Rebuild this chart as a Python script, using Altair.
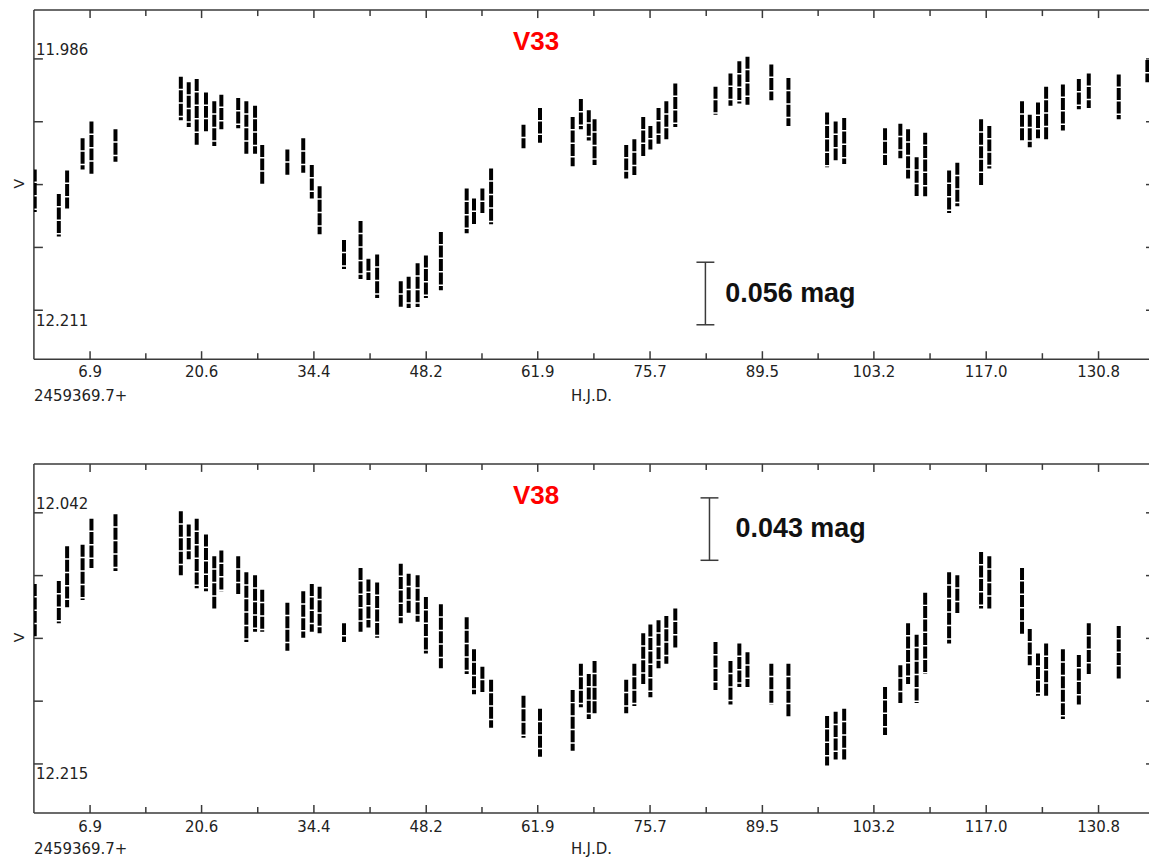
import altair as alt
import pandas as pd

# Observing nights, days after HJD 2459369.7 (shared by both stars)
days = [0.1, 3.06, 4.08, 5.98, 7.07, 10.02, 18.05, 19.02, 20.0, 21.14,
        22.16, 23.03, 25.1, 26.1, 27.17, 28.05, 31.14, 33.09, 34.14, 35.1,
        38.1, 40.13, 41.1, 42.17, 45.07, 46.04, 47.14, 48.16, 50.0, 53.17,
        54.07, 55.1, 56.17, 60.15, 62.18, 66.19, 67.2, 68.17, 68.88, 72.77,
        73.77, 74.86, 75.74, 76.74, 77.7, 78.8, 83.74, 85.58, 86.67, 87.67,
        90.6, 92.7, 97.45, 98.5, 99.55, 104.57, 106.45, 107.4, 108.45, 109.5,
        112.44, 113.45, 116.37, 117.38, 121.4, 122.35, 123.36, 124.36, 126.42, 128.38,
        129.6, 133.28, 136.8]

# V33: brightest and faintest V magnitude of each night
v33_bright = [12.085, 12.107, 12.086, 12.057, 12.042, 12.049, 12.002, 12.007, 12.004, 12.016,
              12.024, 12.018, 12.021, 12.024, 12.028, 12.063, 12.067, 12.057, 12.081, 12.100,
              12.148, 12.131, 12.165, 12.161, 12.185, 12.181, 12.169, 12.162, 12.141, 12.102,
              12.111, 12.102, 12.084, 12.045, 12.030, 12.038, 12.022, 12.032, 12.040, 12.063,
              12.058, 12.038, 12.046, 12.030, 12.024, 12.008, 12.011, 11.999, 11.988, 11.984,
              11.991, 12.003, 12.034, 12.042, 12.039, 12.048, 12.044, 12.049, 12.074, 12.052,
              12.086, 12.079, 12.040, 12.046, 12.024, 12.036, 12.025, 12.011, 12.009, 12.004,
              11.999, 12.000, 11.987]
v33_faint = [12.123, 12.145, 12.120, 12.085, 12.090, 12.078, 12.041, 12.047, 12.063, 12.051,
             12.064, 12.049, 12.048, 12.071, 12.071, 12.099, 12.091, 12.088, 12.111, 12.143,
             12.174, 12.183, 12.184, 12.200, 12.208, 12.209, 12.208, 12.200, 12.193, 12.142,
             12.134, 12.124, 12.134, 12.066, 12.061, 12.082, 12.049, 12.059, 12.081, 12.093,
             12.090, 12.074, 12.067, 12.062, 12.058, 12.047, 12.036, 12.028, 12.026, 12.027,
             12.023, 12.046, 12.083, 12.078, 12.080, 12.081, 12.075, 12.093, 12.109, 12.109,
             12.124, 12.118, 12.099, 12.084, 12.059, 12.065, 12.057, 12.059, 12.050, 12.031,
             12.030, 12.040, 12.007]

# V38 (no point on the last night)
v38_bright = [12.091, 12.089, 12.065, 12.064, 12.046, 12.043, 12.041, 12.050, 12.046, 12.057,
              12.072, 12.068, 12.072, 12.083, 12.085, 12.095, 12.104, 12.096, 12.091, 12.093,
              12.118, 12.080, 12.088, 12.090, 12.077, 12.084, 12.085, 12.100, 12.105, 12.114,
              12.136, 12.148, 12.157, 12.168, 12.177, 12.164, 12.146, 12.153, 12.144, 12.157,
              12.146, 12.125, 12.119, 12.116, 12.113, 12.108, 12.131, 12.144, 12.132, 12.138,
              12.146, 12.146, 12.182, 12.179, 12.177, 12.162, 12.147, 12.118, 12.126, 12.097,
              12.083, 12.085, 12.069, 12.072, 12.080, 12.122, 12.139, 12.132, 12.136, 12.140,
              12.118, 12.120]
v38_faint = [12.128, 12.118, 12.107, 12.102, 12.080, 12.082, 12.085, 12.074, 12.094, 12.096,
             12.108, 12.096, 12.098, 12.131, 12.124, 12.124, 12.137, 12.128, 12.124, 12.125,
             12.131, 12.124, 12.121, 12.128, 12.118, 12.111, 12.117, 12.139, 12.149, 12.153,
             12.167, 12.166, 12.190, 12.197, 12.210, 12.206, 12.176, 12.184, 12.180, 12.180,
             12.175, 12.160, 12.169, 12.149, 12.146, 12.135, 12.164, 12.174, 12.162, 12.162,
             12.174, 12.183, 12.216, 12.212, 12.212, 12.195, 12.173, 12.160, 12.173, 12.153,
             12.132, 12.111, 12.108, 12.108, 12.126, 12.147, 12.168, 12.168, 12.184, 12.174,
             12.153, 12.157]

x_ticks = [6.9, 20.6, 34.4, 48.2, 61.9, 75.7, 89.5, 103.2, 117.0, 130.8]
x_minor = [13.75, 27.5, 41.3, 55.05, 68.8, 82.6, 96.35, 110.1, 123.9]
x_domain = [0, 137.0]
v33_ticks = [11.986, 12.04225, 12.0985, 12.15475, 12.211]
v38_ticks = [12.042, 12.08525, 12.1285, 12.17175, 12.215]
v33_domain = [11.9423, 12.2548]
v38_domain = [12.0083, 12.2488]

INK = "#222222"
LINE = "#3a3a3a"
FONT = "DejaVu Sans"
BOLD = "Liberation Sans"
FS = 15
W, H = 1118, 350
XS = alt.Scale(domain=x_domain, nice=False, zero=False)


def panel(name, n, bright, faint, ydom, yticks, bar_day, bar_top, bar_len,
          lab_day, lab_mag, title_day, title_mag, lab_y, sub_y):
    YS = alt.Scale(domain=ydom, reverse=True, nice=False, zero=False)
    one = alt.Data(values=[{"k": 0}])
    obs = pd.DataFrame({"day": days[:n], "bright": bright, "faint": faint})
    layers = []
    # frame (no right edge: it lies outside the window)
    layers.append(alt.Chart(one).mark_rule(color=LINE, strokeWidth=1.5).encode(
        x=alt.value(0), x2=alt.value(W), y=alt.value(0)))
    layers.append(alt.Chart(one).mark_rule(color=LINE, strokeWidth=1.5).encode(
        x=alt.value(0), x2=alt.value(W), y=alt.value(H)))
    layers.append(alt.Chart(one).mark_rule(color=LINE, strokeWidth=1.5).encode(
        x=alt.value(0), y=alt.value(0), y2=alt.value(H)))
    # x ticks, inward, top and bottom
    xt = pd.DataFrame({"t": x_ticks, "s": [f"{v:.1f}" for v in x_ticks]})
    xm = pd.DataFrame({"t": x_minor})
    for df, L in ((xt, 8), (xm, 6)):
        for y0, y1 in ((0, L), (H - L, H)):
            layers.append(alt.Chart(df).mark_rule(color=LINE, strokeWidth=1.5).encode(
                x=alt.X("t:Q", scale=XS, axis=None), y=alt.value(y0), y2=alt.value(y1)))
    # x tick labels
    layers.append(alt.Chart(xt).mark_text(align="center", baseline="middle", font=FONT,
                                          fontSize=FS, color=INK).encode(
        x=alt.X("t:Q", scale=XS, axis=None), y=alt.value(H + lab_y), text="s:N"))
    # y ticks, inward, left and right
    yt = pd.DataFrame({"m": yticks})
    for x0, x1 in ((0, 9), (W - 3, W)):
        layers.append(alt.Chart(yt).mark_rule(color=LINE, strokeWidth=1.5).encode(
            y=alt.Y("m:Q", scale=YS, axis=None), x=alt.value(x0), x2=alt.value(x1)))
    # y labels: first above its tick, last below its tick
    layers.append(alt.Chart(pd.DataFrame({"m": [yticks[0]], "s": [f"{yticks[0]:.3f}"]})).mark_text(
        align="left", baseline="alphabetic", dx=2, dy=-4, font=FONT, fontSize=FS, color=INK).encode(
        x=alt.value(0), y=alt.Y("m:Q", scale=YS, axis=None), text="s:N"))
    layers.append(alt.Chart(pd.DataFrame({"m": [yticks[-1]], "s": [f"{yticks[-1]:.3f}"]})).mark_text(
        align="left", baseline="alphabetic", dx=2, dy=15.5, font=FONT, fontSize=FS, color=INK).encode(
        x=alt.value(0), y=alt.Y("m:Q", scale=YS, axis=None), text="s:N"))
    # observations
    layers.append(alt.Chart(obs).mark_rule(color="black", strokeWidth=4, strokeCap="butt",
                                           strokeDash=[12, 1.5], clip=True).encode(
        x=alt.X("day:Q", scale=XS, axis=None),
        y=alt.Y("bright:Q", scale=YS, axis=None),
        y2="faint:Q"))
    # magnitude scale bar
    bar = pd.DataFrame({"d": [bar_day], "l": [bar_day - 1.1], "r": [bar_day + 1.1],
                        "a": [bar_top], "b": [bar_top + bar_len]})
    layers.append(alt.Chart(bar).mark_rule(color=LINE, strokeWidth=1.5).encode(
        x=alt.X("d:Q", scale=XS, axis=None), y=alt.Y("a:Q", scale=YS, axis=None), y2="b:Q"))
    for fld in ("a", "b"):
        layers.append(alt.Chart(bar).mark_rule(color=LINE, strokeWidth=1.5).encode(
            x=alt.X("l:Q", scale=XS, axis=None), x2="r:Q", y=alt.Y(f"{fld}:Q", scale=YS, axis=None)))
    lab = pd.DataFrame({"d": [lab_day], "m": [lab_mag], "s": [f"{bar_len:.3f} mag"]})
    layers.append(alt.Chart(lab).mark_text(align="left", baseline="middle", font=BOLD, fontSize=27,
                                           fontWeight="bold", color="#111111").encode(
        x=alt.X("d:Q", scale=XS, axis=None), y=alt.Y("m:Q", scale=YS, axis=None), text="s:N"))
    # star name
    tt = pd.DataFrame({"d": [title_day], "m": [title_mag], "s": [name]})
    layers.append(alt.Chart(tt).mark_text(align="center", baseline="middle", font=BOLD, fontSize=26,
                                          fontWeight="bold", color="#ff0000").encode(
        x=alt.X("d:Q", scale=XS, axis=None), y=alt.Y("m:Q", scale=YS, axis=None), text="s:N"))
    # axis titles
    layers.append(alt.Chart(one).mark_text(angle=270, align="center", baseline="middle", font=FONT,
                                           fontSize=14, color=INK).encode(
        x=alt.value(-14), y=alt.value(174), text=alt.value("V")))
    layers.append(alt.Chart(one).mark_text(align="left", baseline="middle", font=FONT,
                                           fontSize=FS, color=INK).encode(
        x=alt.value(0), y=alt.value(H + sub_y), text=alt.value("2459369.7+")))
    layers.append(alt.Chart(one).mark_text(align="center", baseline="middle", font=FONT,
                                           fontSize=FS, color=INK).encode(
        x=alt.value(W / 2), y=alt.value(H + sub_y), text=alt.value("H.J.D.")))
    return alt.layer(*layers).properties(width=W, height=H)


top = panel("V33", 73, v33_bright, v33_faint, v33_domain, v33_ticks,
            82.5, 12.168, 0.056, 84.95, 12.1967, 61.7, 11.971, 13, 37)
bottom = panel("V38", 72, v38_bright, v38_faint, v38_domain, v38_ticks,
               83.0, 12.0317, 0.043, 86.2, 12.053, 61.7, 12.0303, 14, 36)

chart = (alt.vconcat(top, bottom, spacing=105, bounds="flush")
         .resolve_scale(x="independent", y="independent")
         .properties(padding={"left": 13, "top": 8, "right": 0, "bottom": 0}, background="white")
         .configure_view(stroke=None))

chart.save("out.html", embed_options={"renderer": "svg", "actions": False})
